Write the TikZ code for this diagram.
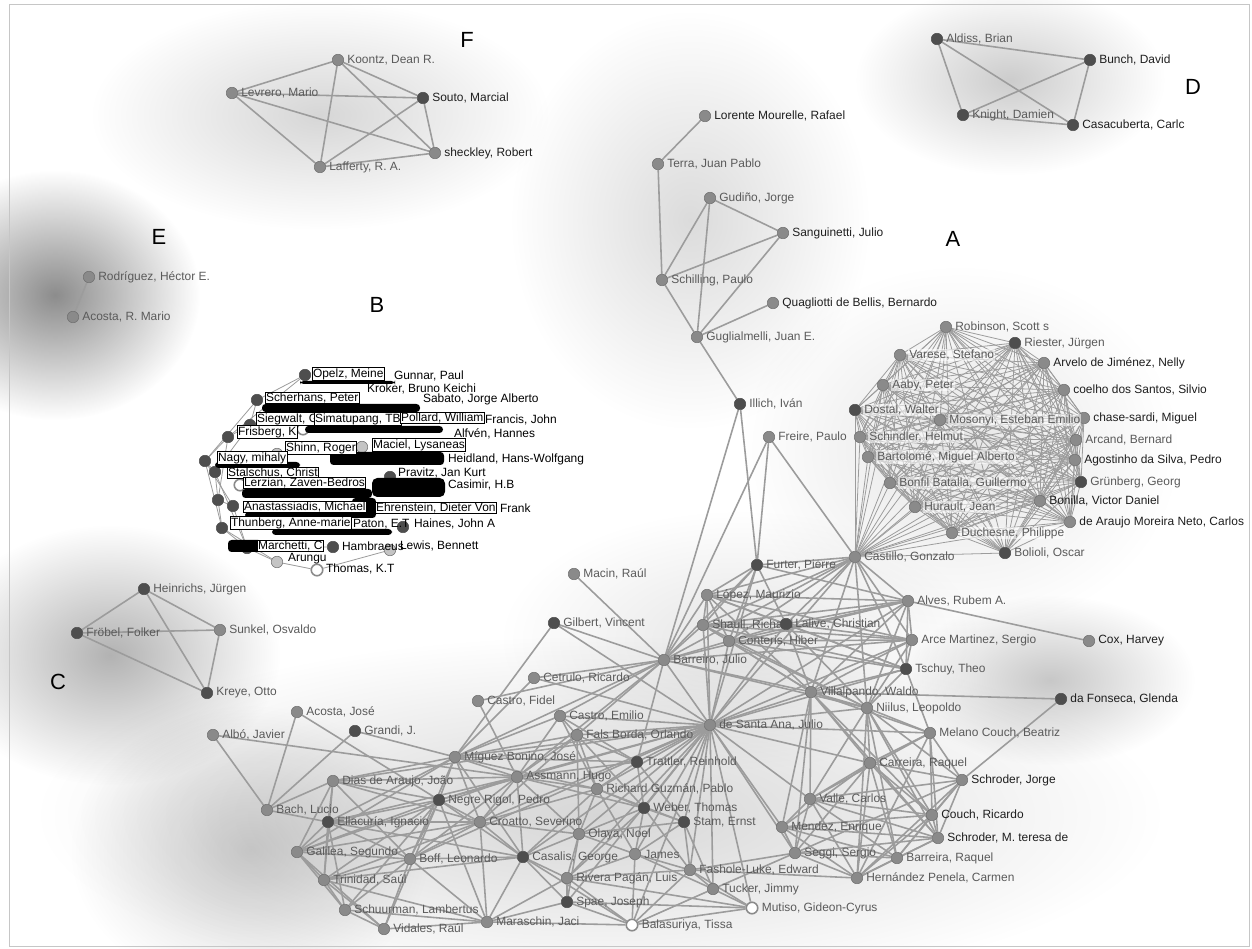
\documentclass[tikz,border=0pt]{standalone}
\usepackage{fontspec}
\setmainfont{Liberation Sans}
\usetikzlibrary{fadings}
\definecolor{edgec}{HTML}{9C9C9C}
\definecolor{nodec}{HTML}{8A8A8A}
\definecolor{nodeb}{HTML}{707070}
\definecolor{noded}{HTML}{4E4E4E}
\definecolor{nodel}{HTML}{C4C4C4}
\definecolor{txt}{HTML}{5A5A5A}
\definecolor{txtd}{HTML}{1E1E1E}
\newcommand\lblfont{\fontsize{6.8}{7}\selectfont}
\tikzfading[name=haze, inner color=transparent!0, outer color=transparent!100]
\pgfdeclarelayer{hazelayer}
\pgfdeclarelayer{edgelayer}
\pgfsetlayers{hazelayer,edgelayer,main}
\tikzset{
  dot/.style={circle,inner sep=0pt,minimum size=0.23cm,fill=nodec,draw=nodeb,line width=0.3pt},
  dk/.style={dot,fill=noded,draw=noded},
  lt/.style={dot,fill=nodel},
  wt/.style={dot,fill=white,draw=nodec,line width=0.9pt},
  tag/.style={font=\lblfont,text=txt,inner sep=0.5pt,anchor=west},
  tagd/.style={tag,text=txtd},
  tagbox/.style={tag,fill=white,fill opacity=0.55,text opacity=1,text=txt},
  blab/.style={font=\lblfont,text=black,fill=white,draw=black,line width=0.4pt,inner sep=0.4pt,anchor=west},
  bplain/.style={font=\lblfont,text=black,inner sep=0.4pt,anchor=west},
  letter/.style={font=\fontsize{12.5}{13}\selectfont,text=black,inner sep=0pt},
  link/.style={draw=edgec,line width=0.9pt},
  fine link/.style={draw=edgec,line width=0.45pt},
  puff/.style={fill=black,path fading=haze}
}
% a dot with its name written to its right
\newcommand\who[5]{\node[#1] (#2) at (#3) {}; \node[#4] (#2-t) at ([xshift=1.2pt]#2.east) {#5};}
% every pair of the listed nodes joined
\newcommand\clique[2]{\foreach \u [count=\i] in {#2}{\foreach \v [count=\j] in {#2}{\ifnum\i<\j \draw[#1] (\u) -- (\v);\fi}}}
\begin{document}
\begin{tikzpicture}[x=0.02cm,y=-0.02cm]
\useasboundingbox (0,0) rectangle (1252,949);

% paper and soft grey shadows around the groups
\begin{pgfonlayer}{hazelayer}
\fill[white] (0,0) rectangle (1252,949);
\fill[puff,opacity=0.16] (320,115) ellipse [x radius=4.6cm, y radius=2.3cm];
\fill[puff,opacity=0.45] (55,295) ellipse [x radius=2.9cm, y radius=2.5cm];
\fill[puff,opacity=0.14] (690,220) ellipse [x radius=3.6cm, y radius=4.2cm];
\fill[puff,opacity=0.20] (1010,80) ellipse [x radius=3.1cm, y radius=1.9cm];
\fill[puff,opacity=0.10] (960,450) ellipse [x radius=4.4cm, y radius=3.7cm];
\fill[puff,opacity=0.22] (1050,680) ellipse [x radius=2.9cm, y radius=1.7cm];
\fill[puff,opacity=0.30] (110,655) ellipse [x radius=3.4cm, y radius=2.6cm];
\fill[puff,opacity=0.16] (600,815) ellipse [x radius=11.3cm, y radius=3.6cm];
\fill[puff,opacity=0.18] (250,850) ellipse [x radius=3.6cm, y radius=2.9cm];
\fill[puff,opacity=0.10] (740,640) ellipse [x radius=4.8cm, y radius=2.6cm];
\end{pgfonlayer}
\draw[gray!45,line width=0.5pt] (9,4) rectangle (1249,946);

% group letters
\node[letter] (lA) at (953,239) {A};
\node[letter] (lB) at (377,305) {B};
\node[letter] (lC) at (58,682) {C};
\node[letter] (lD) at (1193,87) {D};
\node[letter] (lE) at (159,237) {E};
\node[letter] (lF) at (467,40) {F};

% group F
\who{dot}{koo}{338,60}{tag}{Koontz, Dean R.}
\who{dot}{lev}{232,93}{tag}{Levrero, Mario}
\who{dk}{sou}{423,98}{tagd}{Souto, Marcial}
\who{dot}{she}{435,153}{tagd}{sheckley, Robert}
\who{dot}{laf}{320,167}{tag}{Lafferty, R. A.}
% group E
\who{dot}{rod}{89,277}{tag}{Rodríguez, Héctor E.}
\who{dot}{acr}{73,317}{tag}{Acosta, R. Mario}
% group D
\who{dk}{ald}{937,39}{tag}{Aldiss, Brian}
\who{dk}{bun}{1090,60}{tagd}{Bunch, David}
\who{dk}{kni}{963,115}{tag}{Knight, Damien}
\who{dk}{cac}{1073,125}{tagd}{Casacuberta, Carlc}
% upper chain
\who{dot}{lor}{705,116}{tagd}{Lorente Mourelle, Rafael}
\who{dot}{ter}{658,164}{tag}{Terra, Juan Pablo}
\who{dot}{gud}{710,198}{tag}{Gudiño, Jorge}
\who{dot}{san}{783,233}{tagd}{Sanguinetti, Julio}
\who{dot}{sch}{662,280}{tag}{Schilling, Paulo}
\who{dot}{qua}{773,303}{tagd}{Quagliotti de Bellis, Bernardo}
\who{dot}{gug}{697,337}{tag}{Guglialmelli, Juan E.}
\who{dk}{ill}{740,404}{tag}{Illich, Iván}
\who{dot}{fre}{769,437}{tag}{Freire, Paulo}
% group A
\who{dot}{rob}{946,327}{tag}{Robinson, Scott s}
\who{dk}{rie}{1015,343}{tag}{Riester, Jürgen}
\who{dot}{arv}{1044,363}{tagd}{Arvelo de Jiménez, Nelly}
\who{dot}{coe}{1064,390}{tagd}{coelho dos Santos, Silvio}
\who{dot}{cha}{1084,418}{tagd}{chase-sardi, Miguel}
\who{dot}{arc}{1076,440}{tag}{Arcand, Bernard}
\who{dot}{ago}{1075,460}{tagd}{Agostinho da Silva, Pedro}
\who{dk}{gru}{1081,482}{tag}{Grünberg, Georg}
\who{dot}{bon}{1040,501}{tagd}{Bonilla, Victor Daniel}
\who{dot}{dea}{1070,522}{tagd}{de Araujo Moreira Neto, Carlos}
\who{dk}{bol}{1005,553}{tag}{Bolioli, Oscar}
\who{dot}{duc}{952,533}{tagbox}{Duchesne, Philippe}
\who{dot}{hur}{915,507}{tagbox}{Hurault, Jean}
\who{dot}{bnf}{890,483}{tagbox}{Bonfil Batalla, Guillermo}
\who{dot}{bar}{868,457}{tagbox}{Bartolomé, Miguel Alberto}
\who{dot}{hel}{860,437}{tagbox}{Schindler, Helmut}
\who{dk}{dos}{855,410}{tagbox}{Dostal, Walter}
\who{dot}{aab}{883,385}{tagbox}{Aaby, Peter}
\who{dot}{var}{900,355}{tagbox}{Varese, Stefano}
\who{dot}{mos}{940,420}{tagbox}{Mosonyi, Esteban Emilio}
\who{dot}{cas}{855,557}{tag}{Castillo, Gonzalo}
% central network
\who{dk}{fur}{757,565}{tag}{Furter, Pierre}
\who{dot}{mac}{574,574}{tag}{Macin, Raúl}
\who{dk}{gil}{554,623}{tag}{Gilbert, Vincent}
\who{dot}{cet}{534,678}{tag}{Cetrulo, Ricardo}
\who{dot}{cfi}{478,701}{tag}{Castro, Fidel}
\who{dot}{bjr}{664,660}{tag}{Barreiro, Julio}
\who{dot}{lop}{707,595}{tag}{López, Maurizio}
\who{dot}{sha}{703,625}{tag}{Shaull, Richard}
\who{dk}{lal}{786,624}{tag}{Lalive, Christian}
\who{dot}{con}{729,641}{tag}{Conteris, Hiber}
\who{dot}{alv}{908,601}{tag}{Alves, Rubem A.}
\who{dot}{arm}{912,640}{tag}{Arce Martinez, Sergio}
\who{dk}{tsc}{906,669}{tag}{Tschuy, Theo}
\who{dot}{vil}{811,692}{tag}{Villalpando, Waldo}
\who{dot}{nii}{867,708}{tag}{Niilus, Leopoldo}
\who{dot}{cox}{1089,641}{tagd}{Cox, Harvey}
\who{dk}{fon}{1061,699}{tagd}{da Fonseca, Glenda}
\who{dot}{jsa}{710,725}{tag}{de Santa Ana, Julio}
\who{dot}{cem}{560,716}{tag}{Castro, Emilio}
\who{dot}{fal}{577,735}{tag}{Fals Borda, Orlando}
\who{dk}{tra}{637,762}{tag}{Trattler, Reinhold}
\who{dot}{ric}{597,789}{tag}{Richard Guzmán, Pablo}
\who{dk}{web}{644,808}{tag}{Weber, Thomas}
\who{dk}{sta}{684,822}{tag}{Stam, Ernst}
\who{dot}{ola}{579,834}{tag}{Olaya, Noel}
\who{dot}{jam}{635,854}{tag}{James}
\who{dk}{gcs}{523,857}{tag}{Casalis, George}
\who{dot}{fas}{690,870}{tag}{Fashole-Luke, Edward}
\who{dot}{tuc}{713,889}{tag}{Tucker, Jimmy}
\who{wt}{mut}{752,908}{tag}{Mutiso, Gideon-Cyrus}
\who{wt}{bal}{632,925}{tag}{Balasuriya, Tissa}
\who{dk}{spa}{567,902}{tag}{Spae, Joseph}
\who{dot}{riv}{567,878}{tag}{Rivera Pagán, Luis}
\who{dot}{aco}{297,712}{tag}{Acosta, José}
\who{dk}{gra}{355,731}{tag}{Grandi, J.}
\who{dot}{alb}{213,735}{tag}{Albó, Javier}
\who{dot}{mig}{455,757}{tag}{Míguez Bonino, José}
\who{dot}{ass}{517,777}{tag}{Assmann, Hugo}
\who{dot}{dia}{333,781}{tag}{Dias de Araujo, João}
\who{dot}{bac}{267,810}{tag}{Bach, Lucio}
\who{dk}{neg}{439,800}{tag}{Negre Rigol, Pedro}
\who{dk}{ell}{328,822}{tag}{Ellacuría, Ignacio}
\who{dot}{cro}{480,822}{tag}{Croatto, Severino}
\who{dot}{gal}{297,852}{tag}{Galilea, Segundo}
\who{dot}{bof}{410,859}{tag}{Boff, Leonardo}
\who{dot}{tri}{324,880}{tag}{Trinidad, Saúl}
\who{dot}{sch2}{345,910}{tag}{Schuurman, Lambertus}
\who{dot}{vid}{384,929}{tag}{Vidales, Raúl}
\who{dot}{mar}{487,922}{tag}{Maraschin, Jaci}
\who{dot}{mel}{930,733}{tag}{Melano Couch, Beatriz}
\who{dot}{car}{870,763}{tag}{Carreira, Raquel}
\who{dot}{sjo}{962,780}{tagd}{Schroder, Jorge}
\who{dot}{val}{810,799}{tag}{Valle, Carlos}
\who{dot}{cri}{932,815}{tagd}{Couch, Ricardo}
\who{dot}{smt}{938,838}{tagd}{Schroder, M. teresa de}
\who{dot}{men}{782,827}{tag}{Mendez, Enrique}
\who{dot}{seg}{795,853}{tag}{Seggi, Sergio}
\who{dot}{brr}{897,858}{tag}{Barreira, Raquel}
\who{dot}{her}{857,878}{tag}{Hernández Penela, Carmen}
% group C
\who{dk}{hei}{144,589}{tag}{Heinrichs, Jürgen}
\who{dk}{fro}{77,633}{tag}{Fröbel, Folker}
\who{dot}{sun}{220,630}{tag}{Sunkel, Osvaldo}
\who{dk}{kre}{207,693}{tag}{Kreye, Otto}

% group B: dots
\node[dk] (b1) at (305,375) {};
\node[dk] (b2) at (257,400) {};
\node[dk] (b3) at (250,425) {};
\node[dk] (b4) at (228,437) {};
\node[dk] (b5) at (205,461) {};
\node[dk] (b6) at (215,472) {};
\node[dk] (b22) at (218,500) {};
\node[dk] (b21) at (233,506) {};
\node[dk] (b8) at (222,528) {};
\node[dk] (b9) at (247,548) {};
\node[lt] (b10) at (277,562) {};
\node[wt] (b11) at (317,570) {};
\node[dk] (b12) at (333,547) {};
\node[lt] (b13) at (390,550) {};
\node[dk] (b14) at (403,527) {};
\node[dk] (b15) at (367,507) {};
\node[dk] (b16) at (390,477) {};
\node[dk] (b17) at (437,487) {};
\node[lt] (b18) at (362,447) {};
\node[wt] (b19) at (303,429) {};
\node[lt] (b20) at (277,454) {};
\node[wt] (b7) at (240,485) {};
% group B: names without frames
\node[bplain] (n2) at (393,376) {Gunnar, Paul};
\node[bplain] (n3) at (366,389) {Kroker, Bruno Keichi};
\node[bplain] (n5) at (422,399) {Sabato, Jorge Alberto};
\node[bplain] (n9) at (484,420) {Francis, John};
\node[bplain] (n11) at (453,434) {Alfvén, Hannes};
\node[bplain] (n15) at (447,459) {Heidland, Hans-Wolfgang};
\node[bplain] (n17) at (397,473) {Pravitz, Jan Kurt};
\node[bplain] (n19) at (447,485) {Casimir, H.B};
\node[bplain] (n22) at (499,508) {Frank};
\node[bplain] (n24) at (352,524) {Paton, E.T};
\node[bplain] (n25) at (413,524) {Haines, John A};
\node[bplain] (n27) at (341,546) {Hambraeus};
\node[bplain] (n28) at (399,546) {Lewis, Bennett};
\node[bplain] (n29) at (287,559) {Arungu};
\node[bplain] (n30) at (325,569) {Thomas, K.T};
% group B: dark mass of overlapping name boxes
\fill[black,rounded corners=2pt] (262,404) rectangle (420,412);
\fill[black,rounded corners=2pt] (305,426) rectangle (443,433);
\fill[black,rounded corners=2pt] (330,452) rectangle (444,465);
\fill[black,rounded corners=3pt] (372,478) rectangle (445,497);
\fill[black,rounded corners=2pt] (242,489) rectangle (372,498);
\fill[black,rounded corners=2pt] (352,498) rectangle (376,518);
\fill[black,rounded corners=2pt] (245,512) rectangle (372,518);
\fill[black,rounded corners=2pt] (272,529) rectangle (392,535);
\fill[black,rounded corners=2pt] (300,381) rectangle (395,384);
\fill[black,rounded corners=2pt] (215,462) rectangle (300,468);
\fill[black,rounded corners=2pt] (228,540) rectangle (262,552);
% group B: framed names
\node[blab] (n1) at (312,374) {Opelz, Meine};
\node[blab] (n4) at (265,398) {Scherhans, Peter};
\node[blab] (n6) at (256,419) {Siegwalt, G};
\node[blab] (n7) at (314,419) {Simatupang, TB};
\node[blab] (n8) at (400,418) {Pollard, William};
\node[blab] (n10) at (237,432) {Frisberg, K};
\node[blab] (n12) at (285,448) {Shinn, Roger};
\node[blab] (n13) at (372,445) {Maciel, Lysaneas};
\node[blab] (n14) at (217,458) {Nagy, mihaly};
\node[blab] (n16) at (227,473) {Stalschus, Christ};
\node[blab] (n18) at (243,483) {Lerzian, Zaven-Bedros};
\node[blab] (n20) at (243,507) {Anastassiadis, Michael};
\node[blab] (n21) at (375,508) {Ehrenstein, Dieter Von};
\node[blab] (n23) at (230,523) {Thunberg, Anne-marie};
\node[blab] (n26) at (257,546) {Marchetti, C};

% connectors
\begin{pgfonlayer}{edgelayer}
\clique{link}{koo,lev,sou,she,laf}
\clique{link}{ald,bun,kni,cac}
\clique{link}{hei,fro,sun,kre}
\draw[link] (rod) -- (acr);
\foreach \a/\b in {lor/ter,ter/sch,gud/sch,gud/gug,gud/san,san/sch,san/gug,sch/gug,qua/gug,
  gug/ill,ill/bjr,ill/fur,fre/fur,fre/cas,fre/bjr}
  \draw[link] (\a) -- (\b);
\clique{fine link}{rob,rie,arv,coe,cha,arc,ago,gru,bon,dea,bol,duc,hur,bnf,bar,hel,dos,aab,var,mos,cas}
\foreach \a/\b in {
  fur/lop,fur/cas,fur/sha,fur/lal,fur/con,fur/alv,fur/bjr,
  cas/lop,cas/sha,cas/lal,cas/con,cas/alv,cas/arm,cas/tsc,cas/vil,cas/nii,cas/bjr,cas/jsa,
  lop/sha,lop/lal,lop/con,lop/alv,lop/arm,lop/tsc,lop/bjr,lop/vil,lop/jsa,
  sha/lal,sha/con,sha/alv,sha/arm,sha/tsc,sha/bjr,sha/vil,sha/jsa,sha/nii,
  lal/con,lal/alv,lal/arm,lal/tsc,lal/vil,lal/nii,lal/jsa,
  con/alv,con/arm,con/tsc,con/vil,con/nii,con/bjr,con/jsa,
  alv/arm,alv/tsc,alv/vil,alv/nii,alv/cox,alv/bjr,
  arm/tsc,arm/vil,arm/nii,arm/bjr,arm/jsa,
  tsc/vil,tsc/nii,tsc/jsa,tsc/mel,
  vil/nii,vil/fon,vil/jsa,vil/car,vil/val,vil/men,vil/mel,vil/bjr,vil/cri,vil/seg,vil/smt,
  nii/mel,nii/car,nii/sjo,nii/cri,nii/smt,nii/val,nii/jsa,nii/her,nii/brr,
  fon/sjo,
  mel/car,mel/sjo,mel/cri,mel/smt,mel/val,mel/her,
  car/sjo,car/val,car/cri,car/smt,car/men,car/seg,car/her,car/brr,
  sjo/cri,sjo/smt,sjo/val,sjo/her,sjo/brr,sjo/seg,
  val/men,val/seg,val/cri,val/smt,val/her,val/brr,val/jsa,
  cri/smt,cri/her,cri/brr,cri/men,
  smt/her,smt/brr,smt/seg,smt/men,
  men/seg,men/her,men/brr,men/jsa,
  seg/her,seg/brr,seg/fas,seg/tuc,brr/her,her/fas,
  gil/bjr,mac/bjr,cet/bjr,gil/mig,gil/jsa,cet/mig,cet/jsa,cfi/ass,cfi/bjr,
  jsa/mig,jsa/ass,jsa/cem,jsa/fal,jsa/tra,jsa/ric,jsa/web,jsa/sta,jsa/ola,jsa/jam,
  jsa/fas,jsa/tuc,jsa/mut,jsa/bal,jsa/gcs,jsa/cro,jsa/neg,jsa/seg,jsa/car,jsa/mel,
  jsa/alv,jsa/fur,jsa/dia,jsa/bof,jsa/riv,jsa/spa,jsa/bjr,
  bjr/mig,bjr/ass,bjr/cem,bjr/fal,bjr/nii,bjr/tra,
  aco/bac,aco/neg,gra/bac,gra/mig,alb/bac,alb/ass,
  mig/ass,mig/cem,mig/fal,mig/dia,mig/neg,mig/cro,mig/bof,mig/ell,mig/gal,mig/ric,mig/gcs,mig/tra,
  ass/cem,ass/fal,ass/neg,ass/cro,ass/ric,ass/dia,ass/bof,ass/gcs,ass/ola,ass/tra,ass/web,ass/ell,ass/gal,
  cem/fal,cem/ric,cem/tra,
  fal/ric,fal/ola,fal/tra,fal/web,fal/cro,
  tra/ric,tra/web,tra/sta,
  ric/web,ric/ola,ric/sta,ric/gcs,ric/jam,ric/cro,
  web/sta,web/ola,web/jam,web/fas,web/riv,
  sta/jam,sta/fas,sta/tuc,sta/ola,
  ola/gcs,ola/jam,ola/riv,ola/spa,ola/cro,
  jam/fas,jam/riv,jam/tuc,jam/bal,
  fas/tuc,fas/mut,fas/bal,fas/riv,
  tuc/mut,tuc/bal,mut/bal,mut/spa,mut/riv,
  bal/spa,bal/riv,bal/mar,bal/gcs,
  spa/riv,spa/gcs,spa/mar,riv/gcs,riv/mar,
  gcs/cro,gcs/bof,gcs/mar,gcs/neg,gcs/ell,gcs/tri,
  cro/neg,cro/bof,cro/dia,cro/ell,cro/gal,cro/mar,cro/tri,
  neg/dia,neg/ell,neg/bof,neg/gal,neg/tri,neg/sch2,neg/mar,neg/vid,
  dia/bac,dia/ell,dia/gal,dia/bof,dia/tri,bac/ell,
  ell/gal,ell/bof,ell/tri,ell/sch2,
  gal/bof,gal/tri,gal/sch2,gal/vid,
  bof/tri,bof/sch2,bof/vid,bof/mar,
  tri/sch2,tri/vid,tri/mar,sch2/vid,sch2/mar,vid/mar}
  \draw[link] (\a) -- (\b);
\foreach \a/\b in {b5/b4,b4/b3,b3/b2,b2/b1,b5/b6,b6/b22,b22/b8,b8/b9,b9/b10,b10/b11,
  b5/b8,b4/b22,b3/b6,b2/b5,b6/b9,b21/b9,b8/b10,b11/b13,b9/b12,b1/b4,b22/b21,b5/b21}
  \draw[fine link] (\a) -- (\b);
\end{pgfonlayer}
\end{tikzpicture}
\end{document}
